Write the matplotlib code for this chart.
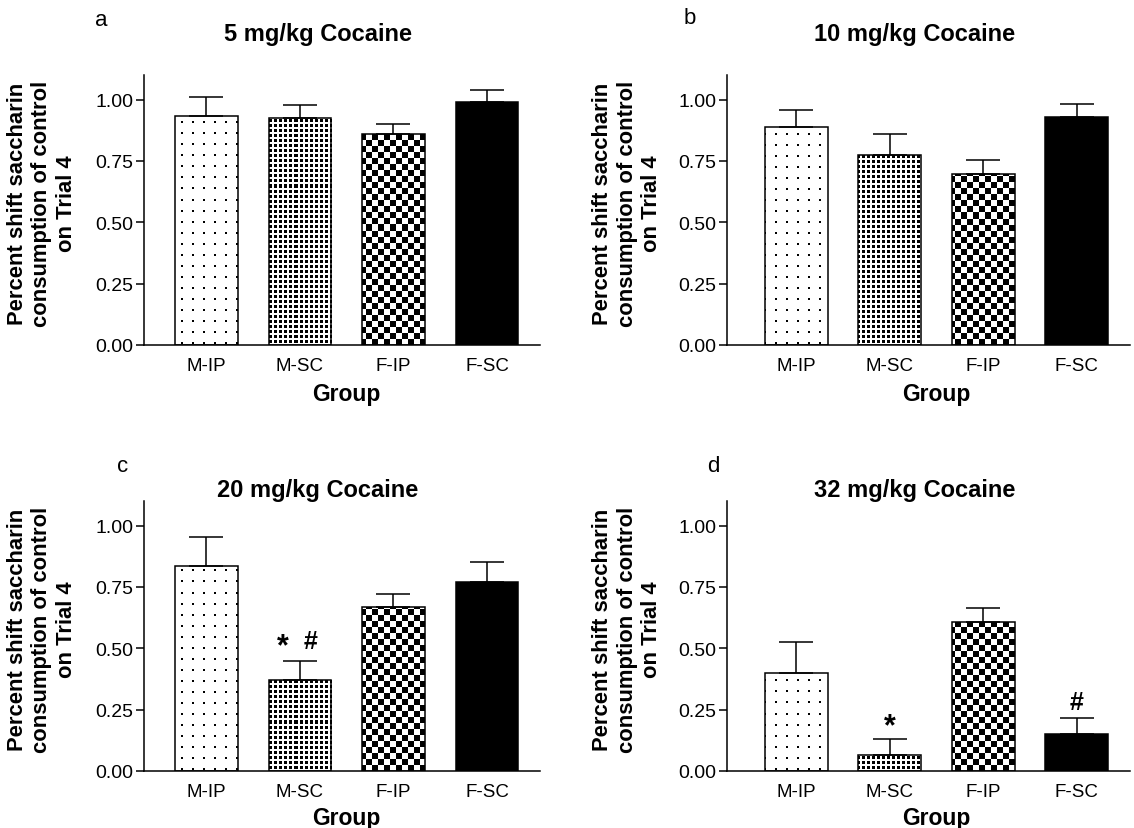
import numpy as np
import matplotlib
matplotlib.use("Agg")
import matplotlib.pyplot as plt

# ---------------- data ----------------
groups = ["M-IP", "M-SC", "F-IP", "F-SC"]
panel_letters = ["a", "b", "c", "d"]
panel_titles = ["5 mg/kg Cocaine", "10 mg/kg Cocaine", "20 mg/kg Cocaine", "32 mg/kg Cocaine"]

means_5 = [0.934, 0.926, 0.860, 0.990]
sems_5 = [0.077, 0.053, 0.041, 0.049]
means_10 = [0.888, 0.773, 0.698, 0.930]
sems_10 = [0.068, 0.086, 0.055, 0.053]
means_20 = [0.837, 0.371, 0.667, 0.772]
sems_20 = [0.118, 0.078, 0.055, 0.078]
means_32 = [0.400, 0.065, 0.606, 0.149]
sems_32 = [0.124, 0.064, 0.057, 0.065]

yticks = [0.00, 0.25, 0.50, 0.75, 1.00]
ytick_labels = ["0.00", "0.25", "0.50", "0.75", "1.00"]
ylabel_text = "Percent shift saccharin\nconsumption of control\non Trial 4"
xlabel_text = "Group"

# significance marks: (panel index, group index, symbol)
marks = [(2, 1, "*"), (2, 1, "#"), (3, 1, "*"), (3, 3, "#")]

# ---------------- style / layout ----------------
W, H = 1134, 829
DPI = 100
FONT = ["Liberation Sans", "DejaVu Sans"]
plt.rcParams["font.family"] = FONT

# axes boxes in pixels: left, top, right, bottom
boxes = [(144, 76, 540, 346), (727, 76, 1130, 346),
         (144, 502, 540, 772), (727, 502, 1130, 772)]
xlims = [(-0.668, 3.567), (-0.741, 3.569), (-0.668, 3.567), (-0.741, 3.569)]
letter_pos = [(101, 20), (690, 18), (123, 467), (713, 467)]
title_pos = [(318, 34), (915, 34), (318, 491), (915, 491)]
ylabel_pos = [(42, 204), (627, 204), (42, 630), (627, 630)]
xlabel_pos = [(346, 394), (936, 394), (346, 819), (936, 819)]
# per mark: x shift (in bar units), y offset in pixels above error bar
mark_style = [(-0.18, 7), (0.11, 13), (0.0, 5), (0.0, 9)]
textures = ["sparse", "dense", "checker", None]

BAR_W = 0.67
LW = 1.1


def make_texture(kind, w, h):
    yy, xx = np.mgrid[0:h, 0:w]
    img = np.ones((h, w))
    if kind == "sparse":
        img[((xx - 4) % 11 < 2) & ((yy - 3) % 11 < 2)] = 0
    elif kind == "dense":
        img[((xx % 5) < 3) & ((yy % 5) < 3)] = 0
    elif kind == "checker":
        img[((xx // 6) + (yy // 6)) % 2 == 0] = 0
    return img


fig = plt.figure(figsize=(W / DPI, H / DPI), dpi=DPI)

all_means = [means_5, means_10, means_20, means_32]
all_sems = [sems_5, sems_10, sems_20, sems_32]

for p in range(4):
    l, t, r, b = boxes[p]
    ax = fig.add_axes([l / W, 1 - b / H, (r - l) / W, (b - t) / H])
    means = all_means[p]
    sems = all_sems[p]
    x = np.arange(len(groups))
    ax.set_xlim(*xlims[p])
    ax.set_ylim(0, 1.1)

    faces = ["white", "white", "white", "black"]
    bars = ax.bar(x, means, width=BAR_W, color=faces, edgecolor="none", zorder=1)
    ax.bar(x, means, width=BAR_W, fill=False, edgecolor="black", linewidth=LW, zorder=3)

    pw, ph = int(round(r - l)), int(round(b - t))
    for bar, kind in zip(bars, textures):
        if kind is None:
            continue
        tex = make_texture(kind, pw, ph)
        im = ax.imshow(tex, cmap="gray", vmin=0, vmax=1, interpolation="nearest",
                       extent=(*xlims[p], 0, 1.1), aspect="auto", origin="upper", zorder=2)
        im.set_clip_path(bar)

    ax.errorbar(x, means, yerr=[np.zeros(len(sems)), sems], fmt="none",
                ecolor="black", elinewidth=LW, capsize=12, capthick=LW, zorder=4)

    ax.set_xticks(x)
    ax.set_xticklabels(groups, fontsize=13.5)
    ax.set_yticks(yticks)
    ax.set_yticklabels(ytick_labels, fontsize=14)
    ax.tick_params(axis="x", length=0, pad=9)
    ax.tick_params(axis="y", direction="out", length=5.5, width=LW, pad=2)
    for s in ["top", "right"]:
        ax.spines[s].set_visible(False)
    for s in ["left", "bottom"]:
        ax.spines[s].set_linewidth(LW)

    for (mp, gi, sym), (dx, dy) in zip(marks, mark_style):
        if mp != p:
            continue
        size = 22 if sym == "*" else 18
        ax.annotate(sym, xy=(gi + dx, means[gi] + sems[gi]), xytext=(0, dy),
                    textcoords="offset pixels", ha="center", va="baseline",
                    fontsize=size, fontweight="bold", zorder=5)

    fig.text(letter_pos[p][0] / W, 1 - letter_pos[p][1] / H, panel_letters[p],
             fontsize=16, ha="center", va="center")
    fig.text(title_pos[p][0] / W, 1 - title_pos[p][1] / H, panel_titles[p],
             fontsize=17, fontweight="bold", ha="center", va="center")
    fig.text(ylabel_pos[p][0] / W, 1 - ylabel_pos[p][1] / H, ylabel_text,
             fontsize=15.8, fontweight="bold", rotation=90, ha="center", va="center",
             multialignment="center", linespacing=1.2)
    fig.text(xlabel_pos[p][0] / W, 1 - xlabel_pos[p][1] / H, xlabel_text,
             fontsize=16.5, fontweight="bold", ha="center", va="center")

fig.savefig("out.png", dpi=DPI)
